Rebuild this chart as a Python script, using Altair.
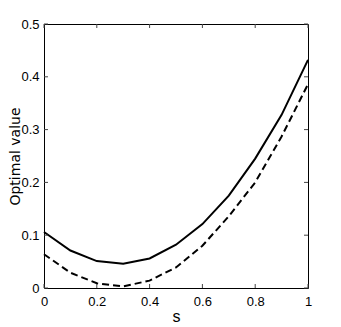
import altair as alt
import pandas as pd

s_vals = [0.0, 0.1, 0.2, 0.3, 0.4, 0.5, 0.6, 0.7, 0.8, 0.9, 1.0]
solid_vals = [0.106, 0.071, 0.051, 0.046, 0.056, 0.082, 0.121, 0.175, 0.245, 0.328, 0.432]
dashed_vals = [0.064, 0.029, 0.009, 0.003, 0.014, 0.039, 0.080, 0.136, 0.200, 0.287, 0.386]
x_ticks = [0, 0.2, 0.4, 0.6, 0.8, 1]
y_ticks = [0, 0.1, 0.2, 0.3, 0.4, 0.5]

W, H = 264, 264
LABEL_FONT = "Liberation Sans Narrow, Liberation Sans, Arial, sans-serif"
TITLE_FONT = "DejaVu Sans, Liberation Sans, sans-serif"
TICK_LEN = 4
TICK_COLOR = "#444"

df = pd.DataFrame({
    "s": s_vals * 2,
    "value": solid_vals + dashed_vals,
    "series": ["solid"] * len(s_vals) + ["dashed"] * len(s_vals),
})
xt = pd.DataFrame({"t": x_ticks})
yt = pd.DataFrame({"t": y_ticks})

xscale = alt.Scale(domain=[0, 1], nice=False, zero=False)
yscale = alt.Scale(domain=[0, 0.5], nice=False, zero=False)

xaxis = alt.Axis(
    orient="bottom", values=x_ticks, format="~g", ticks=False, domain=False,
    grid=False, labelFlush=False, labelOverlap=False, labelPadding=7,
    labelFont=LABEL_FONT, labelFontSize=13, labelColor="black",
    title="s", titleFont=LABEL_FONT, titleFontSize=16, titleFontWeight="normal",
    titleColor="black", titleBaseline="alphabetic", titleY=33, titleX=W / 2)
yaxis = alt.Axis(
    orient="left", values=y_ticks, format="~g", ticks=False, domain=False,
    grid=False, labelFlush=False, labelOverlap=False, labelPadding=5,
    labelFont=LABEL_FONT, labelFontSize=13, labelColor="black",
    title="Optimal value", titleFont=TITLE_FONT, titleFontSize=14,
    titleFontWeight="normal", titleColor="black", titleAngle=270,
    titleBaseline="alphabetic", titleX=-25, titleY=H / 2)

main = alt.Chart(df).transform_filter(alt.datum.series == "solid").mark_line(
    color="black", strokeWidth=2
).encode(
    x=alt.X("s:Q", scale=xscale, axis=xaxis),
    y=alt.Y("value:Q", scale=yscale, axis=yaxis),
)

dashed = alt.Chart(df).transform_filter(alt.datum.series == "dashed").mark_line(
    color="black", strokeWidth=2, strokeDash=[7, 4]
).encode(
    x=alt.X("s:Q", scale=xscale, axis=xaxis),
    y=alt.Y("value:Q", scale=yscale, axis=yaxis),
)

tick_bottom = alt.Chart(xt).mark_rule(color=TICK_COLOR, strokeWidth=1, y2Offset=-TICK_LEN).encode(
    x=alt.X("t:Q", scale=xscale, axis=xaxis),
    y=alt.YDatum(0, scale=yscale, axis=yaxis),
    y2=alt.Y2Datum(0),
)
tick_top = alt.Chart(xt).mark_rule(color=TICK_COLOR, strokeWidth=1, y2Offset=TICK_LEN).encode(
    x=alt.X("t:Q", scale=xscale, axis=xaxis),
    y=alt.YDatum(0.5, scale=yscale, axis=yaxis),
    y2=alt.Y2Datum(0.5),
)
tick_left = alt.Chart(yt).mark_rule(color=TICK_COLOR, strokeWidth=1, x2Offset=TICK_LEN).encode(
    y=alt.Y("t:Q", scale=yscale, axis=yaxis),
    x=alt.XDatum(0, scale=xscale, axis=xaxis),
    x2=alt.X2Datum(0),
)
tick_right = alt.Chart(yt).mark_rule(color=TICK_COLOR, strokeWidth=1, x2Offset=-TICK_LEN).encode(
    y=alt.Y("t:Q", scale=yscale, axis=yaxis),
    x=alt.XDatum(1, scale=xscale, axis=xaxis),
    x2=alt.X2Datum(1),
)

chart = alt.layer(main, dashed, tick_bottom, tick_top, tick_left, tick_right).properties(
    width=W, height=H,
    autosize=alt.AutoSizeParams(type="none"),
    padding={"left": 36, "top": 16, "right": 17, "bottom": 39},
    background="white",
).configure_view(stroke="black", strokeWidth=1)

chart.save("out.html", embed_options={"renderer": "svg", "actions": False})
